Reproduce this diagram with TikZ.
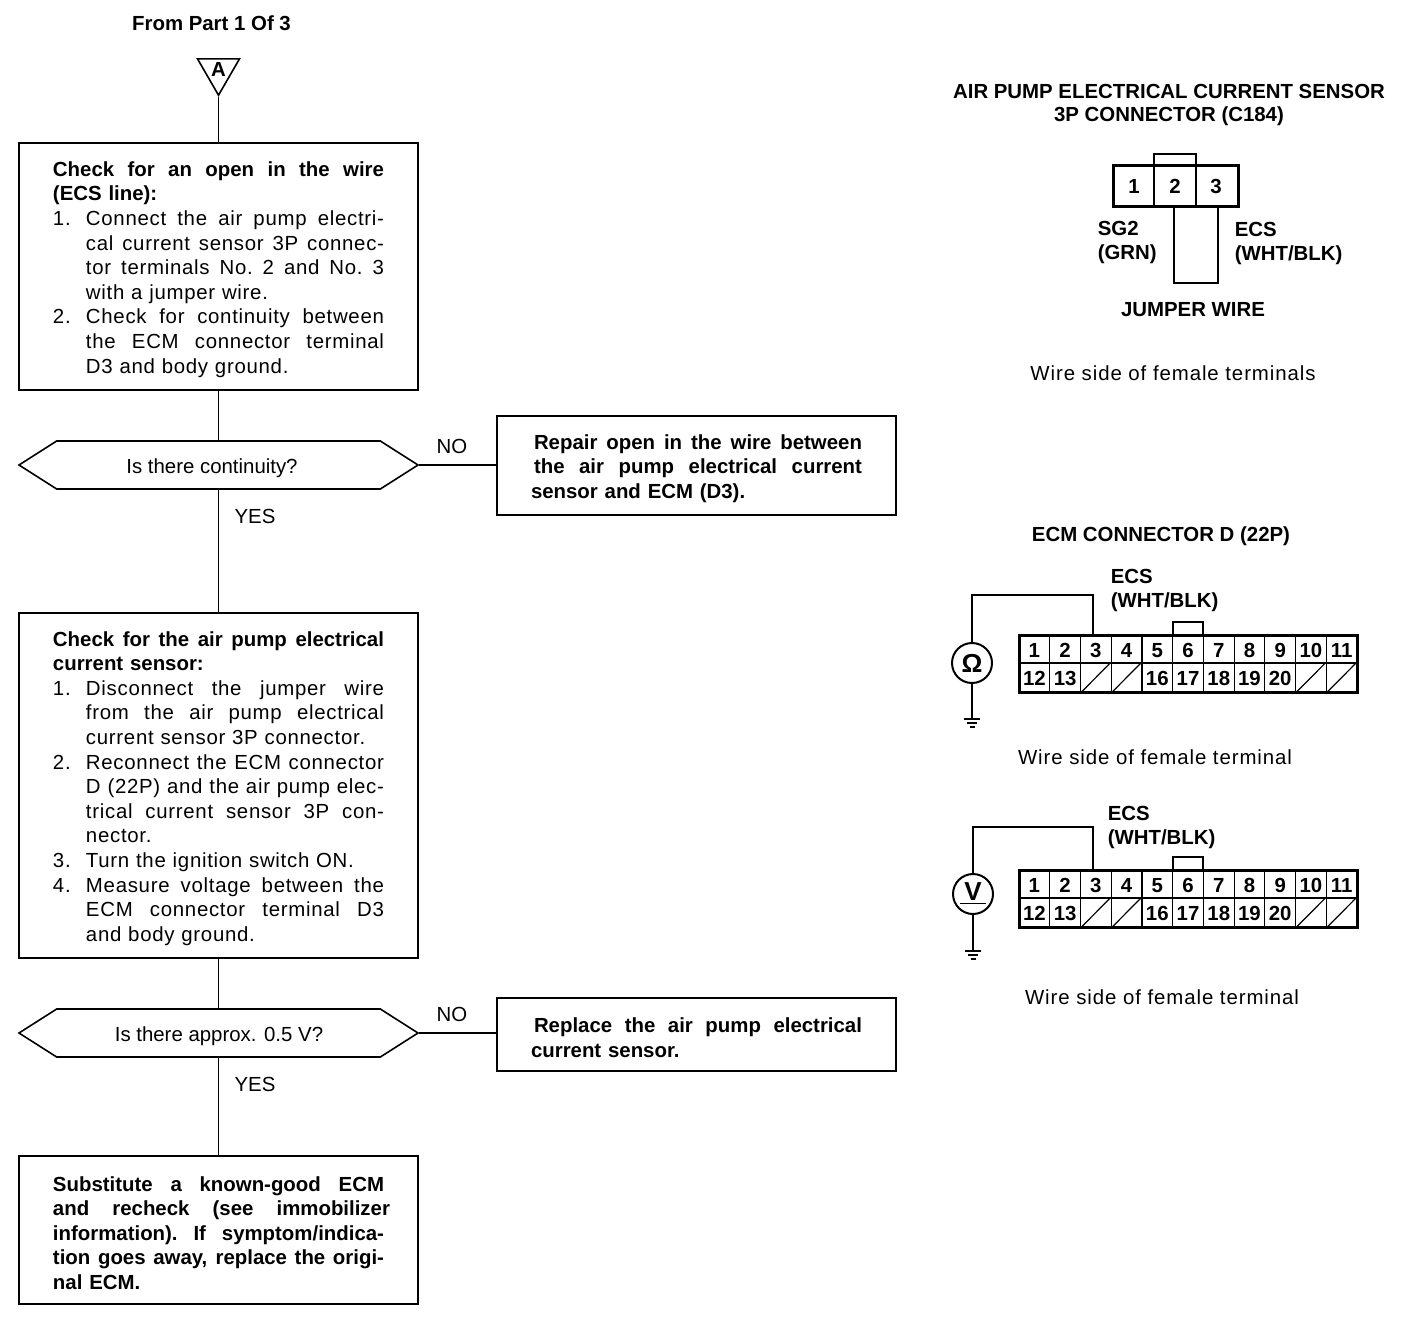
\documentclass[tikz,border=0pt]{standalone}
\usepackage{fontspec}
\setmainfont{Liberation Sans}
\newfontfamily\spacedf[LetterSpace=3.5]{Liberation Sans}
\newfontfamily\widef[LetterSpace=4.5]{Liberation Sans}
\usetikzlibrary{shapes.geometric,shapes.symbols}
\newcommand{\sline}[2]{\leavevmode\hbox to #1{\spaceskip=0.25em plus 1fil\xspaceskip=\spaceskip #2}}
\newcommand{\fl}[1]{\sline{165.5pt}{#1}}
\newcommand{\rl}[1]{\leavevmode\hspace*{1.5pt}\sline{164pt}{#1}}
\newcommand{\nl}[2]{\makebox[16.5pt][l]{#1}\sline{149pt}{#2}}
\newcommand{\il}[1]{\leavevmode\hspace*{16.5pt}\sline{149pt}{#1}}
\newcommand{\nn}[2]{\makebox[16.5pt][l]{#1}#2}
\newcommand{\ii}[1]{\leavevmode\hspace*{16.5pt}#1}
\begin{document}
\begin{tikzpicture}[x=0.5pt,y=-0.5pt,line width=0.8pt,
	every node/.style={inner sep=0pt,font=\fontsize{10.2}{12.3}\selectfont},
	stepbox/.style={draw,line width=0.9pt,minimum width=199.5pt,text width=165.5pt,align=left,
		execute at begin node={\rule{0pt}{10.4pt}}},
	askbox/.style={draw,line width=0.8pt,signal,signal to=east and west,signal pointer angle=65,
		minimum width=199.5pt,minimum height=24pt},
	lbl/.style={font=\fontsize{10.2}{12.3}\selectfont\bfseries},
	lblleft/.style={lbl,anchor=west},
	pinlbl/.style={lbl,text height=7pt,text depth=0pt},
	plain/.style={font=\fontsize{10.2}{12.3}\selectfont},
	wide/.style={font=\fontsize{10.2}{12.3}\selectfont\widef}]

\def\xa{1019}
\def\cw{30.73}

\useasboundingbox (0,0) rectangle (1408,1340);

\node[lbl] (from) at (211.5,23) {From Part 1 Of 3};
\node[draw,regular polygon,regular polygon sides=3,shape border rotate=180,minimum size=24.2pt,
	line width=0.8pt] (tri) at (218.5,71) {};
\node[lbl] (triA) at (218.5,69) {A};

\node[stepbox,minimum height=123.5pt] (chk1) at (218.5,266.5) {%
	\bfseries\fl{Check for an open in the wire}\\
	(ECS line):\\
	\spacedf\mdseries\nl{1.}{Connect the air pump electri-}\\
	\il{cal current sensor 3P connec-}\\
	\il{tor terminals No. 2 and No. 3}\\
	\ii{with a jumper wire.}\\
	\nl{2.}{Check for continuity between}\\
	\il{the ECM connector terminal}\\
	\ii{D3 and body ground.}};

\node[askbox] (ask1) at (218.5,465) {};
\node[plain] (ask1t) at (212,468) {Is there continuity?};
\node[plain] (no1) at (452,446) {NO};
\node[plain] (yes1) at (255,516) {YES};

\node[stepbox,minimum height=49.5pt,font=\fontsize{10.2}{12.3}\selectfont\bfseries] (rep1) at (696.5,465.5) {%
	\rl{Repair open in the wire between}\\
	\rl{the air pump electrical current}\\
	sensor and ECM (D3).};

\node[stepbox,minimum height=172.5pt] (chk2) at (218.5,785.5) {%
	\bfseries\fl{Check for the air pump electrical}\\
	current sensor:\\
	\spacedf\mdseries\nl{1.}{Disconnect the jumper wire}\\
	\il{from the air pump electrical}\\
	\ii{current sensor 3P connector.}\\
	\nl{2.}{Reconnect the ECM connector}\\
	\il{D (22P) and the air pump elec-}\\
	\il{trical current sensor 3P con-}\\
	\ii{nector.}\\
	\nn{3.}{Turn the ignition switch ON.}\\
	\nl{4.}{Measure voltage between the}\\
	\il{ECM connector terminal D3}\\
	\ii{and body ground.}};

\node[askbox] (ask2) at (218.5,1033) {};
\node[plain] (ask2t) at (219,1036) {Is there approx. 0.5 V?};
\node[plain] (no2) at (452,1014) {NO};
\node[plain] (yes2) at (255,1084) {YES};

\node[stepbox,minimum height=36.5pt,font=\fontsize{10.2}{12.3}\selectfont\bfseries] (rep2) at (696.5,1034.5) {%
	\rl{Replace the air pump electrical}\\
	current sensor.};

\node[stepbox,minimum height=74pt,font=\fontsize{10.2}{12.3}\selectfont\bfseries] (sub) at (218.5,1230) {%
	\fl{Substitute a known-good ECM}\\
	\sline{168.5pt}{and recheck (see immobilizer}\\
	\fl{information). If symptom/indica-}\\
	\fl{tion goes away, replace the origi-}\\
	nal ECM.};

\draw (tri.corner 1) -- (chk1.north);
\draw (chk1.south) -- (ask1.north);
\draw (ask1.east) -- (ask1.east -| rep1.west);
\draw (ask1.south) -- (chk2.north);
\draw (chk2.south) -- (ask2.north);
\draw (ask2.east) -- (ask2.east -| rep2.west);
\draw (ask2.south) -- (sub.north);

\node[lbl] (ttl1) at (1169,91) {AIR PUMP ELECTRICAL CURRENT SENSOR};
\node[lbl] (ttl2) at (1169,116) {3P CONNECTOR (C184)};
\draw[line width=1pt] (1154,165) -- (1154,154) -- (1196,154) -- (1196,165);
\draw[line width=0.8pt] (1174,206) -- (1174,283) -- (1218,283) -- (1218,206);
\draw[line width=1.5pt] (1113,165) rectangle (1238,206);
\draw[line width=0.6pt] (1154,165) -- (1154,206) (1196,165) -- (1196,206);
\foreach \i/\px in {1/1134,2/1175,3/1216}
	\node[pinlbl] (pin\i) at (\px,186) {\i};
\node[lblleft] (sg) at (1097,228) {SG2};
\node[lblleft] (grn) at (1097,254) {(GRN)};
\node[lblleft] (ecs) at (1234,229) {ECS};
\node[lblleft] (wht) at (1234,255) {(WHT/BLK)};
\node[lbl] (jmp) at (1193,310) {JUMPER WIRE};
\node[wide] (side) at (1173,373) {Wire side of female terminals};

\node[lbl] (ttl3) at (1161,536) {ECM CONNECTOR D (22P)};

\foreach \n/\rt/\wt/\mx/\my/\gy/\lx/\ly/\sx/\sy/\sym in
	{a/635/595/972/663/719/1110/576/1155/757/{Ω},b/870/827/973/894/951/1107/813/1162/997/{\underline{\,V\,}}}{
\draw[line width=1pt] ({\xa+5*\cw},\rt) -- ({\xa+5*\cw},\rt-13) -- ({\xa+6*\cw},\rt-13) -- ({\xa+6*\cw},\rt);
\draw[line width=1.5pt] (\xa,\rt) rectangle (1357,\rt+57);
\draw[line width=0.6pt] (\xa,\rt+28) -- (1357,\rt+28);
\foreach \i in {1,...,10}
	\draw[line width=0.6pt] ({\xa+\i*\cw},\rt) -- ({\xa+\i*\cw},\rt+57);
\foreach \i in {1,...,11}
	\node[pinlbl] (top\n\i) at ({\xa+(\i-0.5)*\cw},\rt+15) {\i};
\foreach \i/\lab in {1/12,2/13,5/16,6/17,7/18,8/19,9/20}
	\node[pinlbl] (bot\n\i) at ({\xa+(\i-0.5)*\cw},\rt+43) {\lab};
\foreach \i in {3,4,10,11}
	\draw[line width=0.6pt] ({\xa+(\i-1)*\cw+1},\rt+57) -- ({\xa+\i*\cw-1},\rt+28);
\node[draw,circle,line width=1pt,minimum size=20pt,font=\fontsize{13}{14}\selectfont\bfseries] (mtr\n) at (\mx,\my) {\sym};
\coordinate (wa\n) at (1093,\wt);
\coordinate (wb\n) at (1093,\rt);
\coordinate (gnd\n) at (\mx,\gy);
\draw[line width=1pt] (mtr\n.north) |- (wa\n) -- (wb\n);
\draw[line width=0.8pt] (mtr\n.south) -- (gnd\n);
\draw[line width=0.8pt] (\mx-8,\gy) -- (\mx+8,\gy) (\mx-5,\gy+4) -- (\mx+5,\gy+4) (\mx-2.5,\gy+8) -- (\mx+2.5,\gy+8);
\node[lblleft] (ecs\n) at (\lx,\ly) {ECS};
\node[lblleft] (wht\n) at (\lx,\ly+26) {(WHT/BLK)};
\node[wide] (side\n) at (\sx,\sy) {Wire side of female terminal};
}

\end{tikzpicture}
\end{document}
